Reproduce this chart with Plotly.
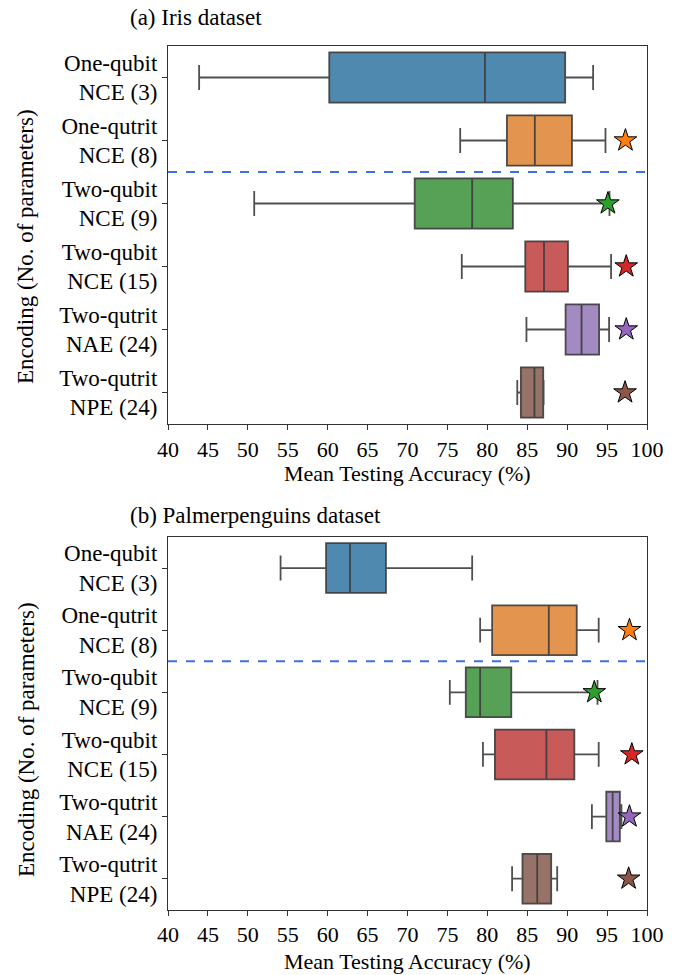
import plotly.graph_objects as go

categories = ["One-qubit<br>NCE (3)", "One-qutrit<br>NCE (8)", "Two-qubit<br>NCE (9)",
              "Two-qubit<br>NCE (15)", "Two-qutrit<br>NAE (24)", "Two-qutrit<br>NPE (24)"]

# (a) Iris dataset
iris_low = [43.9, 76.6, 50.8, 76.8, 84.9, 83.75]
iris_q1 = [60.2, 82.45, 70.9, 84.75, 89.8, 84.2]
iris_med = [79.7, 85.95, 78.1, 87.1, 91.8, 85.9]
iris_q3 = [89.75, 90.6, 83.2, 90.1, 94.0, 87.0]
iris_high = [93.25, 94.8, 95.3, 95.5, 95.25, 87.05]
iris_star = [None, 97.3, 95.1, 97.4, 97.4, 97.25]

# (b) Palmerpenguins dataset
peng_low = [54.1, 79.1, 75.3, 79.45, 93.1, 83.1]
peng_q1 = [59.8, 80.6, 77.3, 80.95, 94.9, 84.4]
peng_med = [62.8, 87.7, 79.1, 87.4, 95.7, 86.25]
peng_q3 = [67.3, 91.2, 83.0, 90.9, 96.6, 88.0]
peng_high = [78.1, 93.95, 93.8, 93.95, 96.8, 88.75]
peng_star = [None, 97.8, 93.4, 98.1, 97.8, 97.7]

x_ticks = list(range(40, 101, 5))

box_colors = ["#4f89b0", "#e3944e", "#57a157", "#c85a5a", "#a38ac2", "#977268"]
star_colors = ["#1f77b4", "#ff7f0e", "#2ca02c", "#d62728", "#9467bd", "#8c564b"]

FONT = "'Liberation Serif', 'DejaVu Serif', serif"
FS = 23
fig = go.Figure()

panels = [
    ("x", "y", iris_low, iris_q1, iris_med, iris_q3, iris_high, iris_star),
    ("x2", "y2", peng_low, peng_q1, peng_med, peng_q3, peng_high, peng_star),
]

for xa, ya, lo, q1, md, q3, hi, st in panels:
    for i, cat in enumerate(categories):
        fig.add_trace(go.Box(
            y=[cat], q1=[q1[i]], median=[md[i]], q3=[q3[i]],
            lowerfence=[lo[i]], upperfence=[hi[i]],
            orientation="h", xaxis=xa, yaxis=ya,
            fillcolor=box_colors[i],
            line=dict(color="rgba(60,60,60,0.9)", width=1.8),
            width=0.8, whiskerwidth=0.5, boxpoints=False,
            showlegend=False, hoverinfo="skip",
        ))
    for i, cat in enumerate(categories):
        if st[i] is None:
            continue
        fig.add_trace(go.Scatter(
            x=[st[i]], y=[cat], mode="markers", xaxis=xa, yaxis=ya,
            marker=dict(symbol="star", size=17, color=star_colors[i],
                        line=dict(color="black", width=1)),
            showlegend=False, hoverinfo="skip",
        ))

axis_common = dict(showline=True, linecolor="#333333", linewidth=1.2, mirror=True,
                   ticks="outside", ticklen=5, tickcolor="#333333", showgrid=False,
                   zeroline=False, automargin=False)
xtf = dict(family=FONT, size=22, color="black")
ytf = dict(family=FONT, size=FS, color="black")

fig.update_layout(
    width=678, height=975,
    margin=dict(l=168, r=31, t=46, b=60),
    plot_bgcolor="white", paper_bgcolor="white",
    font=dict(family=FONT, size=FS, color="black"),
    xaxis=dict(domain=[0, 1], anchor="y", range=[40, 100], tickvals=x_ticks,
               tickfont=xtf, **axis_common),
    yaxis=dict(domain=[0.565, 1], anchor="x", type="category", categoryarray=categories,
               range=[5.5, -0.5], tickfont=ytf, **axis_common),
    xaxis2=dict(domain=[0, 1], anchor="y2", range=[40, 100], tickvals=x_ticks,
                tickfont=xtf, **axis_common),
    yaxis2=dict(domain=[0.006, 0.435], anchor="x2", type="category", categoryarray=categories,
                range=[5.5, -0.5], tickfont=ytf, **axis_common),
)

for xr, yr in [("x domain", "y"), ("x2 domain", "y2")]:
    fig.add_shape(type="line", xref=xr, yref=yr, x0=0, x1=1, y0=1.5, y1=1.5,
                  line=dict(color="#3d6fe8", width=2, dash="dash"))

annots = [
    dict(text="(a) Iris dataset", x=128, y=18),
    dict(text="(b) Palmerpenguins dataset", x=128, y=515),
]
for a in annots:
    fig.add_annotation(text=a["text"], xref="paper", yref="paper",
                       x=(a["x"] - 168) / (678 - 168 - 31), y=1 - (a["y"] - 46) / 869,
                       xanchor="left", yanchor="middle", showarrow=False,
                       font=dict(family=FONT, size=FS))

for yc in [247, 740]:
    fig.add_annotation(text="Encoding (No. of parameters)", xref="paper", yref="paper",
                       x=(26 - 168) / 479, y=1 - (yc - 46) / 869, textangle=-90,
                       xanchor="center", yanchor="middle", showarrow=False,
                       font=dict(family=FONT, size=FS))
for yc in [473, 961]:
    fig.add_annotation(text="Mean Testing Accuracy (%)", xref="paper", yref="paper",
                       x=0.5, y=1 - (yc - 46) / 869,
                       xanchor="center", yanchor="middle", showarrow=False,
                       font=dict(family=FONT, size=22))

fig.write_html("out.html", config={"displayModeBar": False},
               post_script="document.body.style.margin='0';document.body.style.padding='0';")
